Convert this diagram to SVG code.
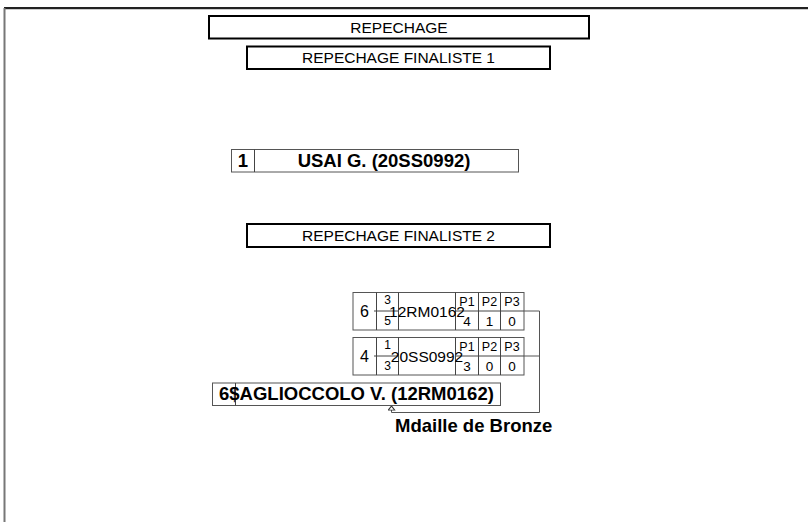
<svg xmlns="http://www.w3.org/2000/svg" width="808" height="522" viewBox="0 0 808 522">
<style>
text{font-family:"Liberation Sans",Arial,sans-serif;fill:#000}
.hdr{fill:#fff;stroke:#000;stroke-width:2}
.thin{fill:#fff;stroke:#555;stroke-width:1}
.ln{fill:none;stroke:#444;stroke-width:1}
.t16{font-size:15.5px;text-anchor:middle}
.b{font-size:18.5px;font-weight:bold}
.p{font-size:12.5px;text-anchor:middle}
.v{font-size:13.5px;text-anchor:middle}
.f{font-size:12px;text-anchor:middle}
.conn{fill:none;stroke:#555;stroke-width:1}
</style>
<defs>
<marker id="arr" viewBox="0 0 10 10" refX="9" refY="5" markerWidth="5" markerHeight="8" preserveAspectRatio="none" orient="auto" markerUnits="userSpaceOnUse">
<path d="M1,1 L9,5 L1,9 Z" fill="#fff" stroke="#333" stroke-width="1.5"/>
</marker>
</defs>
<rect width="808" height="522" fill="#fff"/>
<g id="page">
<line x1="4" y1="8" x2="808" y2="8" stroke="#222" stroke-width="2"/>
<line x1="4" y1="9.5" x2="808" y2="9.5" stroke="#ccc" stroke-width="1"/>
<line x1="4.5" y1="8" x2="4.5" y2="522" stroke="#777" stroke-width="2"/>
</g>
<g id="title">
<rect class="hdr" x="209" y="16" width="380" height="22.5"/>
<text class="t16" x="399" y="32.5">REPECHAGE</text>
</g>
<g id="finaliste1">
<rect class="hdr" x="247" y="46.5" width="303" height="22.5"/>
<text class="t16" x="398.5" y="63">REPECHAGE FINALISTE 1</text>
</g>
<g id="usai">
<rect class="thin" x="231.5" y="149.5" width="287" height="22.5"/>
<line class="ln" x1="254.5" y1="149.5" x2="254.5" y2="172"/>
<text class="b" x="243" y="166.5" text-anchor="middle">1</text>
<text class="b" x="384" y="166.5" text-anchor="middle">USAI G. (20SS0992)</text>
</g>
<g id="finaliste2">
<rect class="hdr" x="247" y="224" width="303" height="23"/>
<text class="t16" x="398.5" y="241">REPECHAGE FINALISTE 2</text>
</g>
<g id="connectors">
<line class="conn" x1="524" y1="311" x2="539.5" y2="311"/>
<line class="conn" x1="524" y1="356" x2="539.5" y2="356"/>
<path class="conn" d="M539.5,311 V412.5 H391.5 V406" marker-end="url(#arr)"/>
</g>
<g id="match1">
<rect class="thin" x="353" y="292.5" width="171" height="37.5"/>
<line class="ln" x1="376.5" y1="292.5" x2="376.5" y2="330"/>
<line class="ln" x1="398.5" y1="292.5" x2="398.5" y2="330"/>
<line class="ln" x1="455.5" y1="292.5" x2="455.5" y2="330"/>
<line class="ln" x1="478.5" y1="292.5" x2="478.5" y2="330"/>
<line class="ln" x1="500.5" y1="292.5" x2="500.5" y2="330"/>
<line class="ln" x1="374" y1="311" x2="398.5" y2="311"/>
<line class="ln" x1="455.5" y1="311" x2="524" y2="311"/>
<text x="364.5" y="317" font-size="16px" text-anchor="middle">6</text>
<text class="f" x="387.5" y="304">3</text>
<text class="f" x="387.5" y="325">5</text>
<text x="427" y="316.5" font-size="15.5px" text-anchor="middle">12RM0162</text>
<text class="p" x="467" y="306">P1</text>
<text class="p" x="489.5" y="306">P2</text>
<text class="p" x="512" y="306">P3</text>
<text class="v" x="467" y="325.5">4</text>
<text class="v" x="489.5" y="325.5">1</text>
<text class="v" x="512" y="325.5">0</text>
</g>
<g id="match2">
<rect class="thin" x="353" y="337.5" width="171" height="37.5"/>
<line class="ln" x1="376.5" y1="337.5" x2="376.5" y2="375"/>
<line class="ln" x1="398.5" y1="337.5" x2="398.5" y2="375"/>
<line class="ln" x1="455.5" y1="337.5" x2="455.5" y2="375"/>
<line class="ln" x1="478.5" y1="337.5" x2="478.5" y2="375"/>
<line class="ln" x1="500.5" y1="337.5" x2="500.5" y2="375"/>
<line class="ln" x1="374" y1="356" x2="398.5" y2="356"/>
<line class="ln" x1="455.5" y1="356" x2="524" y2="356"/>
<text x="364.5" y="362" font-size="16px" text-anchor="middle">4</text>
<text class="f" x="387.5" y="349">1</text>
<text class="f" x="387.5" y="370">3</text>
<text x="427" y="361.5" font-size="15.5px" text-anchor="middle">20SS0992</text>
<text class="p" x="467" y="351">P1</text>
<text class="p" x="489.5" y="351">P2</text>
<text class="p" x="512" y="351">P3</text>
<text class="v" x="467" y="370.5">3</text>
<text class="v" x="489.5" y="370.5">0</text>
<text class="v" x="512" y="370.5">0</text>
</g>
<g id="bronze">
<rect class="thin" x="212.5" y="383" width="288" height="22.5"/>
<line class="ln" x1="235.5" y1="383" x2="235.5" y2="405.5"/>
<text class="b" x="219" y="400">6$AGLIOCCOLO V. (12RM0162)</text>
</g>
<g id="label">
<text class="b" x="395" y="432">Mdaille de Bronze</text>
</g>
</svg>
